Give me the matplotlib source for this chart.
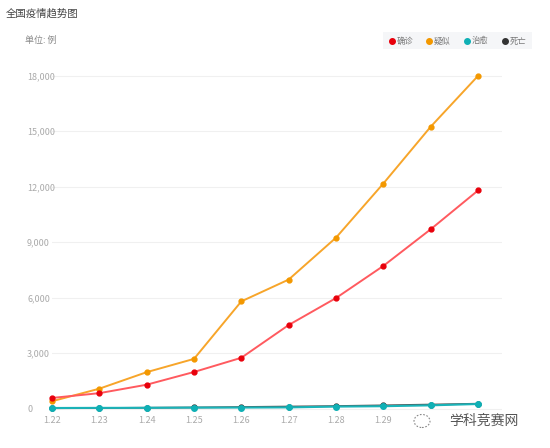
import matplotlib
matplotlib.use("Agg")
import matplotlib.pyplot as plt
from matplotlib.ticker import FuncFormatter
from matplotlib.patches import FancyBboxPatch, Circle

plt.rcParams['font.family'] = ['Noto Sans CJK SC', 'DejaVu Sans']

dates = ["1.22", "1.23", "1.24", "1.25", "1.26", "1.27", "1.28", "1.29", "1.30", "1.31"]
tick_labels = ["1.22", "1.23", "1.24", "1.25", "1.26", "1.27", "1.28", "1.29", "", ""]
confirmed = [571, 830, 1287, 1975, 2744, 4515, 5974, 7711, 9692, 11791]
suspected = [393, 1072, 1965, 2684, 5794, 6973, 9239, 12167, 15238, 17988]
cured = [28, 34, 38, 49, 51, 60, 103, 124, 171, 243]
dead = [17, 25, 41, 56, 80, 106, 132, 170, 213, 259]
series_names = ["确诊", "疑似", "治愈", "死亡"]
yticks = [0, 3000, 6000, 9000, 12000, 15000, 18000]

fig = plt.figure(figsize=(5.5, 4.48), dpi=100)
W, H = 550, 448
left_px, right_px, top_px, bottom_px = 52, 502, 70, 412
ax = fig.add_axes([left_px / W, 1 - bottom_px / H, (right_px - left_px) / W, (bottom_px - top_px) / H])

x = list(range(len(dates)))
ax.plot(x, dead, color="#555555", lw=1.3, marker="o", ms=3.5, mfc="#333333", mec="#333333", zorder=3, clip_on=False)
ax.plot(x, cured, color="#1ab3b8", lw=1.5, marker="o", ms=4, mfc="#0fb0b5", mec="#0fb0b5", zorder=4, clip_on=False)
ax.plot(x, suspected, color="#f7a52a", lw=1.4, marker="o", ms=3.5, mfc="#f39800", mec="#f39800", zorder=3, clip_on=False)
ax.plot(x, confirmed, color="#ff5a5f", lw=1.4, marker="o", ms=3.5, mfc="#e8000b", mec="#e8000b", zorder=3, clip_on=False)

ax.set_xlim(0, 9 + (502 - 478) / 47.3)
ax.set_ylim(-189, 18308)
ax.set_yticks(yticks)
ax.yaxis.set_major_formatter(FuncFormatter(lambda v, p: f"{int(v):,}"))
ax.set_xticks(x)
ax.set_xticklabels(tick_labels)
ax.tick_params(axis="both", length=0, labelsize=6.5, colors="#aaaaaa")
ax.tick_params(axis="y", pad=18)
for lbl in ax.get_yticklabels():
    lbl.set_horizontalalignment("left")
ax.tick_params(axis="x", pad=3)
ax.grid(axis="y", color="#f0f0f0", lw=0.8)
ax.set_axisbelow(True)
for s in ax.spines.values():
    s.set_visible(False)

fig.text(6 / W, 1 - 14 / H, "全国疫情趋势图", fontsize=7.5, color="#444444", va="center", ha="left")
fig.text(25 / W, 1 - 40 / H, "单位: 例", fontsize=6.5, color="#888888", va="center", ha="left")

# legend
lx0, ly0, lx1, ly1 = 383, 32, 532, 49
fig.patches.append(FancyBboxPatch((lx0 / W, 1 - ly1 / H), (lx1 - lx0) / W, (ly1 - ly0) / H,
                                  boxstyle="square,pad=0", transform=fig.transFigure,
                                  facecolor="#f5f6f8", edgecolor="none"))
leg_colors = ["#e8000b", "#f39800", "#0fb0b5", "#333333"]
leg_x = [392, 429, 467, 505]
for cx, c, name in zip(leg_x, leg_colors, series_names):
    fig.lines.append(plt.Line2D([cx / W], [1 - 41 / H], marker="o", ms=4, color=c,
                                transform=fig.transFigure))
    fig.text((cx + 5) / W, 1 - 41 / H, name, fontsize=6, color="#777777", va="center", ha="left")

# watermark
fig.patches.append(Circle((422 / W, 1 - 421 / H), 8 / W, transform=fig.transFigure,
                          facecolor="none", edgecolor="#888888", lw=0.8, ls=(0, (1.5, 1.5))))
fig.text(484 / W, 1 - 421 / H, "学科竞赛网", fontsize=10, color="#555555", va="center", ha="center")

fig.savefig("out.png", dpi=100)
